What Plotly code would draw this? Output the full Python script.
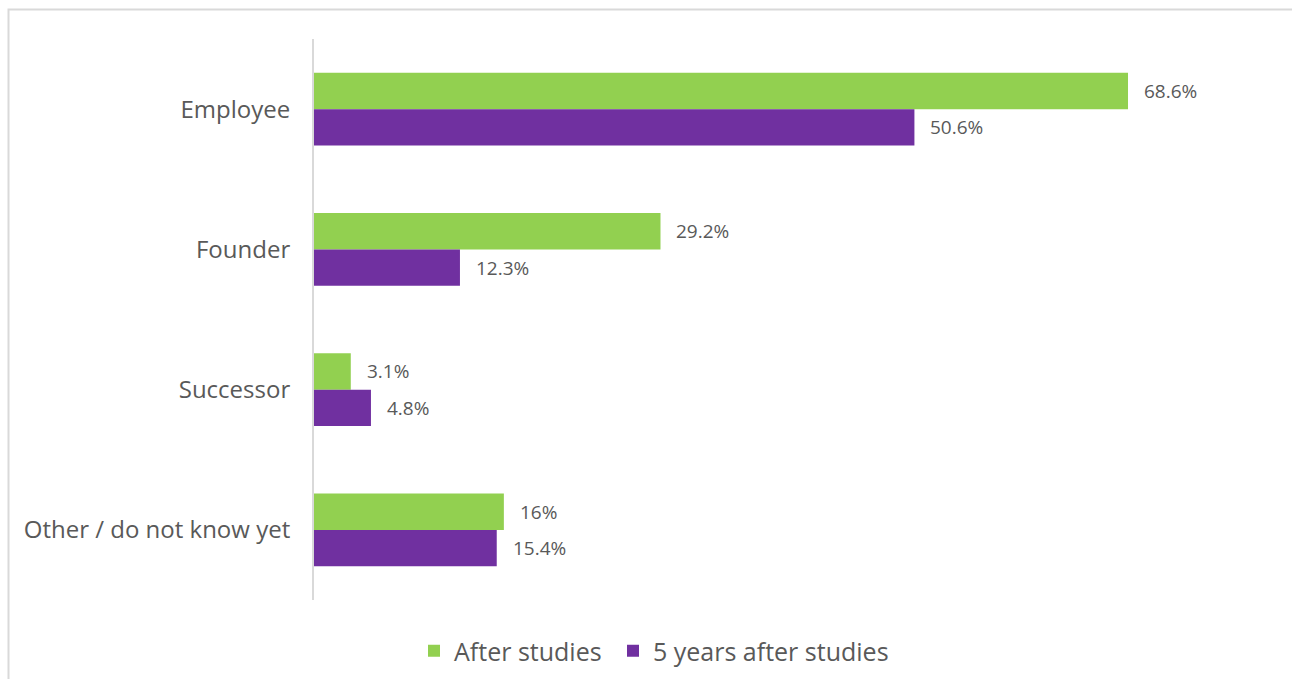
import plotly.graph_objects as go

categories = ["Employee", "Founder", "Successor", "Other / do not know yet"]
after_studies = [68.6, 29.2, 3.1, 16.0]
five_years_after = [50.6, 12.3, 4.8, 15.4]
value_labels_after = ["68.6%", "29.2%", "3.1%", "16%"]
value_labels_five = ["50.6%", "12.3%", "4.8%", "15.4%"]

GREEN = "#92D050"
PURPLE = "#7030A0"
TEXT = "#595959"
FONT = "Open Sans"
BARGAP = 0.48

fig = go.Figure()
fig.add_trace(go.Bar(
    y=categories, x=after_studies, orientation="h", name="After studies",
    marker=dict(color=GREEN, line=dict(width=0)), legend="legend",
    text=value_labels_after, textposition="none", hoverinfo="x+y",
))
fig.add_trace(go.Bar(
    y=categories, x=five_years_after, orientation="h", name="5 years after studies",
    marker=dict(color=PURPLE, line=dict(width=0)), legend="legend2",
    text=value_labels_five, textposition="none", hoverinfo="x+y",
))

# value labels placed just right of each bar end, centred on its bar
half = (1 - BARGAP) / 4
for vals, labels, off in [(after_studies, value_labels_after, -half),
                          (five_years_after, value_labels_five, half)]:
    for i, (v, lab) in enumerate(zip(vals, labels)):
        fig.add_annotation(
            x=v, y=i + off, xref="x", yref="y", text=lab, showarrow=False,
            xanchor="left", yanchor="middle", xshift=14,
            font=dict(family=FONT, size=19, color=TEXT),
        )

# outer frame around the chart area
fig.add_shape(type="rect", xref="paper", yref="paper",
              x0=(8.5 - 314) / 956, x1=1.1, y0=-0.3, y1=(600 - 9.5) / 561,
              line=dict(color="#D9D9D9", width=2), fillcolor="rgba(0,0,0,0)", layer="below")

legend_style = dict(orientation="h", xanchor="left", y=-51 / 561, yanchor="middle",
                    font=dict(family=FONT, size=25, color=TEXT),
                    itemwidth=30, itemsizing="constant", bgcolor="rgba(0,0,0,0)")

fig.update_layout(
    width=1292, height=679,
    margin=dict(l=314, r=22, t=39, b=79, autoexpand=False),
    paper_bgcolor="white", plot_bgcolor="white",
    barmode="group", bargap=BARGAP, bargroupgap=0,
    font=dict(family=FONT, color=TEXT),
    showlegend=True,
    legend=dict(x=(414 - 314) / 956, **legend_style),
    legend2=dict(x=(613 - 314) / 956, **legend_style),
    xaxis=dict(range=[0, 956 / 11.866], showgrid=False, zeroline=False,
               showticklabels=False, showline=False, fixedrange=True),
    yaxis=dict(type="category", categoryorder="array", categoryarray=categories,
               range=[3.5, -0.5], showgrid=False, zeroline=False,
               showline=True, linecolor="#D9D9D9", linewidth=2, ticks="",
               ticklabelstandoff=17,
               tickfont=dict(family=FONT, size=24, color=TEXT)),
)

fig.write_html("out.html")
